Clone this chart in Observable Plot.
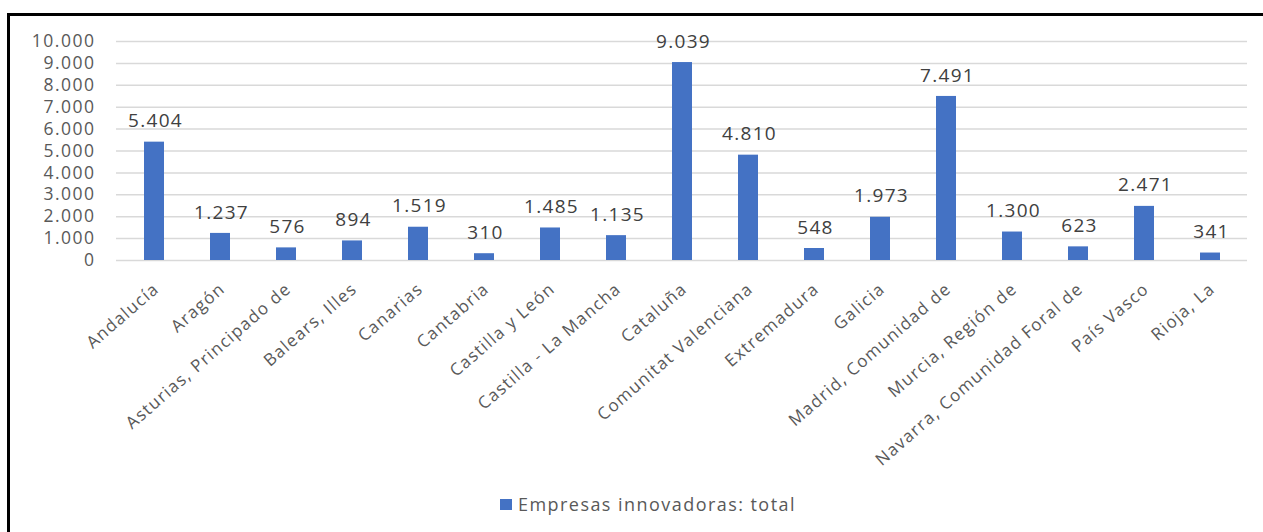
<!DOCTYPE html>
<html>
<head>
<meta charset="utf-8">
<script src="https://cdn.jsdelivr.net/npm/d3@7"></script>
<script src="https://cdn.jsdelivr.net/npm/@observablehq/plot@0.6"></script>
<style>
  html, body { margin: 0; padding: 0; background: #fff; overflow: hidden; }
  body { position: relative; width: 1263px; height: 532px; font-family: "Open Sans", "Noto Sans", sans-serif; }
  #frame { position: absolute; left: 7px; top: 13px; width: 1300px; height: 600px; border-top: 3px solid #000; border-left: 3px solid #000; box-sizing: border-box; }
  #chart { position: absolute; left: 0; top: 0; }
  #chart svg text { letter-spacing: 1.3px; }
  #chart svg g[aria-label="y-axis tick label"] text { letter-spacing: 1.5px; }
  #legend { position: absolute; left: 500px; top: 492px; display: flex; align-items: center; font-size: 18px; letter-spacing: 1.45px; color: #595959; }
  #legend .sw { width: 12px; height: 11px; background: #4472C4; margin-right: 6px; }
</style>
</head>
<body>
<div id="frame"></div>
<div id="chart"></div>
<div id="legend"><span class="sw"></span><span>Empresas innovadoras: total</span></div>
<script>
const regions = ["Andalucía", "Aragón", "Asturias, Principado de", "Balears, Illes", "Canarias", "Cantabria", "Castilla y León", "Castilla - La Mancha", "Cataluña", "Comunitat Valenciana", "Extremadura", "Galicia", "Madrid, Comunidad de", "Murcia, Región de", "Navarra, Comunidad Foral de", "País Vasco", "Rioja, La"];
const values = [5404, 1237, 576, 894, 1519, 310, 1485, 1135, 9039, 4810, 548, 1973, 7491, 1300, 623, 2471, 341];
const yTicks = [0, 1000, 2000, 3000, 4000, 5000, 6000, 7000, 8000, 9000, 10000];
const seriesName = "Empresas innovadoras: total";

const data = regions.map((r, i) => ({region: r, value: values[i]}));
const loc = d3.formatLocale({decimal: ",", thousands: ".", grouping: [3], currency: ["", "€"]});
const fmt = loc.format(",d");

const chart = Plot.plot({
  width: 1263,
  height: 470,
  marginLeft: 116,
  marginRight: 16,
  marginTop: 41,
  marginBottom: 210,
  style: {fontFamily: "'Open Sans', 'Noto Sans', sans-serif", background: "transparent"},
  x: {domain: regions, paddingInner: 0.7, paddingOuter: 0.35, axis: null},
  y: {domain: [0, 10000], axis: null},
  marks: [
    Plot.ruleY(yTicks, {stroke: "#d9d9d9", strokeWidth: 1.5}),
    Plot.axisY({ticks: yTicks, tickSize: 0, tickPadding: 21, tickFormat: fmt, fontSize: 17.5, fill: "#595959", label: null}),
    Plot.barY(data, {x: "region", y: "value", fill: "#4472C4"}),
    Plot.text(data, {x: "region", y: "value", text: d => fmt(d.value), dy: -21, dx: 1, fontSize: 19, fill: "#404040"}),
    Plot.text(regions, {x: d => d, frameAnchor: "bottom", dx: 2, dy: 26, rotate: -41, textAnchor: "end", lineAnchor: "middle", fontSize: 17, fill: "#595959"})
  ]
});
document.getElementById("chart").appendChild(chart);
</script>
</body>
</html>
